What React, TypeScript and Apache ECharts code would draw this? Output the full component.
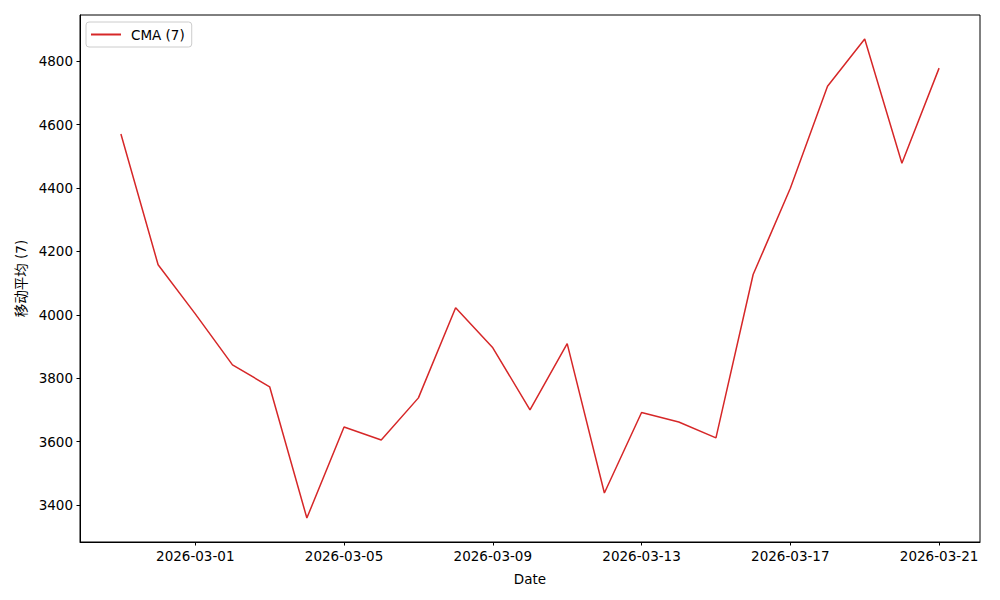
import React, { useEffect, useRef } from "react";
import * as echarts from "echarts";

const dates = [
  "2026-02-27", "2026-02-28", "2026-03-01", "2026-03-02", "2026-03-03", "2026-03-04",
  "2026-03-05", "2026-03-06", "2026-03-07", "2026-03-08", "2026-03-09", "2026-03-10",
  "2026-03-11", "2026-03-12", "2026-03-13", "2026-03-14", "2026-03-15", "2026-03-16",
  "2026-03-17", "2026-03-18", "2026-03-19", "2026-03-20", "2026-03-21",
];
const cmaValues = [
  4570, 4158, 4003, 3842, 3773, 3359, 3646, 3605, 3738, 4022, 3896, 3700,
  3909, 3438, 3692, 3662, 3612, 4127, 4399, 4721, 4870, 4478, 4778,
];
const xTickDates = ["2026-03-01", "2026-03-05", "2026-03-09", "2026-03-13", "2026-03-17", "2026-03-21"];
const yTicks = [3400, 3600, 3800, 4000, 4200, 4400, 4600, 4800];
const seriesName = "CMA (7)";
const xTitle = "Date";
const yTitle = "移动平均 (7)";

export default function App() {
  const ref = useRef<HTMLDivElement>(null);
  useEffect(() => {
    if (!ref.current) return;
    const chart = echarts.init(ref.current, undefined, { renderer: "svg" });
    const n = dates.length;
    const pad = (n - 1) * 0.05;
    const yMin = Math.min(...cmaValues);
    const yMax = Math.max(...cmaValues);
    const yPad = (yMax - yMin) * 0.05;
    const font = "DejaVu Sans";
    const fs = 13.5;
    chart.setOption({
      animation: false,
      backgroundColor: "#ffffff",
      grid: {
        left: 80, right: 20, top: 15, bottom: 58,
        show: true, borderColor: "#000", borderWidth: 1, backgroundColor: "transparent",
      },
      legend: {
        left: 86, top: 22,
        padding: [5, 7, 5, 5],
        borderColor: "#cccccc", borderWidth: 1, borderRadius: 3,
        backgroundColor: "#fff",
        itemWidth: 30, itemHeight: 2,
        textStyle: { fontFamily: font, fontSize: fs, color: "#000", padding: [0, 0, 0, 5], lineHeight: 15 },
        data: [{ name: seriesName, icon: "rect" }],
      },
      xAxis: {
        type: "value",
        min: -pad, max: n - 1 + pad,
        name: xTitle, nameLocation: "middle", nameGap: 30,
        nameTextStyle: { fontFamily: font, fontSize: fs, color: "#000" },
        splitLine: { show: false },
        axisLine: { show: true, onZero: false, lineStyle: { color: "#000", width: 1 } },
        axisTick: { show: true, length: 3.5, lineStyle: { color: "#000" }, customValues: xTickDates.map((d) => dates.indexOf(d)) },
        axisLabel: {
          fontFamily: font, fontSize: fs, color: "#000", margin: 7,
          customValues: xTickDates.map((d) => dates.indexOf(d)),
          formatter: (v: number) => dates[Math.round(v)] ?? "",
        },
      },
      yAxis: {
        type: "value",
        min: yMin - yPad, max: yMax + yPad,
        name: yTitle, nameLocation: "middle", nameGap: 51,
        nameTextStyle: { fontFamily: "DejaVu Sans, 'Noto Sans CJK SC'", fontSize: fs, color: "#000" },
        splitLine: { show: false },
        axisLine: { show: true, onZero: false, lineStyle: { color: "#000", width: 1 } },
        axisTick: { show: true, length: 3.5, lineStyle: { color: "#000" }, customValues: yTicks },
        axisLabel: {
          fontFamily: font, fontSize: fs, color: "#000", margin: 7,
          customValues: yTicks,
          formatter: (v: number) => String(v),
        },
      },
      series: [
        {
          name: seriesName,
          type: "line",
          symbol: "none",
          data: cmaValues.map((v, i) => [i, v]),
          lineStyle: { color: "#d62728", width: 1.5 },
          itemStyle: { color: "#d62728" },
        },
      ],
    });
    return () => chart.dispose();
  }, []);
  return <div ref={ref} style={{ position: "fixed", left: 0, top: 0, width: 1000, height: 600 }} />;
}
